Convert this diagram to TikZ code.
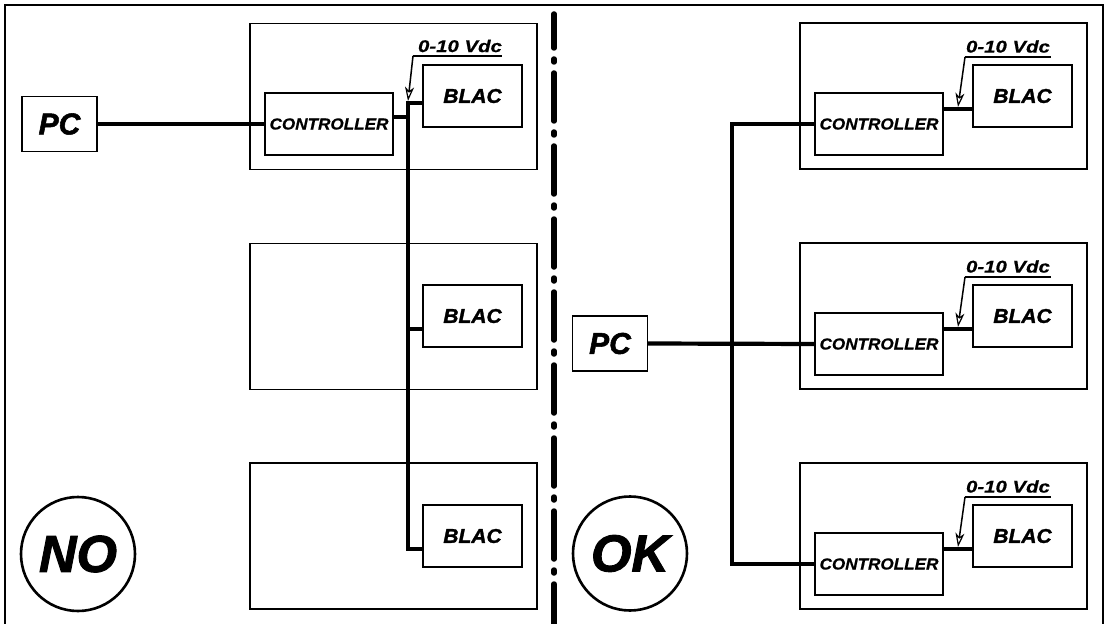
\documentclass[tikz,border=0pt]{standalone}
\usepackage{fontspec}
\setmainfont{Liberation Sans}
\newfontfamily\ctlfont[FakeStretch=1.07,FakeBold=0.6]{Liberation Sans}
\newfontfamily\vfont[FakeStretch=1.2,FakeBold=0.6]{Liberation Sans}
\newfontfamily\bfont[FakeStretch=1.05,FakeBold=1.6]{Liberation Sans}
\newfontfamily\heavyfont[FakeBold=1.8]{Liberation Sans}
\usetikzlibrary{arrows.meta}
\tikzset{
  box/.style={draw, line width=1.4bp, inner sep=0pt},
  pcbox/.style={box, minimum width=75bp, minimum height=55bp, font=\heavyfont\bfseries\itshape\fontsize{30bp}{34bp}\selectfont},
  ctlbox/.style={box, minimum width=128bp, minimum height=62bp, font=\ctlfont\bfseries\itshape\fontsize{16bp}{18bp}\selectfont},
  blacbox/.style={box, minimum width=99bp, minimum height=62bp, font=\bfont\bfseries\itshape\fontsize{20bp}{22bp}\selectfont},
  unit/.style={box, minimum width=287bp, minimum height=146bp},
  vlabel/.style={inner sep=0pt, font=\vfont\bfseries\itshape\fontsize{17bp}{19bp}\selectfont},
  verdict/.style={draw, circle, line width=2.6bp, minimum size=114bp, inner sep=0pt, font=\heavyfont\bfseries\itshape\fontsize{52bp}{56bp}\selectfont},
  bus/.style={line width=4.2bp},
  tap/.style={line width=3.2bp},
  leader/.style={line width=1.5bp, -{Stealth[open, length=14bp, width=9bp, inset=4bp, line width=1.2bp]}},
  uline/.style={line width=1.5bp},
}
\begin{document}
\begin{tikzpicture}[x=1bp, y=-1bp]
\useasboundingbox (0,0) rectangle (1109,624);
% outer frame
\draw[line width=2bp] (5,626) -- (5,5) -- (1103,5) -- (1103,626);
% divider
\draw[line width=5.5bp, line cap=round, dash pattern=on 48bp off 11bp on 3bp off 11bp, dash phase=14bp] (554,14) -- (554,626);

% ===== left side (NO) =====
\node[unit] (uL1) at (393.5,96.5) {};
\node[unit] (uL2) at (393.5,316.5) {};
\node[unit] (uL3) at (393.5,536) {};
\node[pcbox] (pcL) at (59.5,124) {PC};
\node[ctlbox] (ctlL) at (329,124) {CONTROLLER};
\node[blacbox] (bL1) at (472.5,96) {BLAC};
\node[blacbox] (bL2) at (472.5,316) {BLAC};
\node[blacbox] (bL3) at (472.5,536) {BLAC};
\node[verdict] (no) at (78,554) {NO};

\coordinate (tL1) at (408,103);
\coordinate (tL2) at (408,329);
\coordinate (tL3) at (408,549);
\coordinate (jL) at (408,117);
\draw[bus] (pcL.east) -- (ctlL.west);
\draw[bus] (jL -| ctlL.east) -- (jL);
\draw[bus] (tL1 -| bL1.west) -- (tL1) -- (tL3) -- (tL3 -| bL3.west);
\draw[tap] (tL2) -- (tL2 -| bL2.west);
% label
\node[vlabel] (vL) at (460,46) {0-10 Vdc};
\coordinate (ulLa) at (413,56);
\coordinate (ulLb) at (502,56);
\draw[uline] (ulLa) -- (ulLb);
\draw[leader] (ulLa) -- (408,101);

% ===== right side (OK) =====
\node[pcbox] (pcR) at (610,343.5) {PC};
\node[verdict] (ok) at (630,553.5) {OK};
\foreach \i/\T in {1/23,2/243,3/463}{
  \node[unit] (uR\i) at (943.5,\T+73) {};
  \node[ctlbox] (ctlR\i) at (879,\T+101) {CONTROLLER};
  \node[blacbox] (bR\i) at (1022.5,\T+73) {BLAC};
  \coordinate (cR\i) at (958,\T+86);
  \draw[tap] (cR\i -| ctlR\i.east) -- (cR\i -| bR\i.west);
  \node[vlabel] (vR\i) at (1008,\T+23.5) {0-10 Vdc};
  \coordinate (ulRa\i) at (965,\T+34);
  \coordinate (ulRb\i) at (1051,\T+34);
  \draw[uline] (ulRa\i) -- (ulRb\i);
  \draw[leader] (ulRa\i) -- ([yshift=2bp]cR\i);
}
\coordinate (jR1) at (732,124);
\coordinate (jR3) at (732,564);
\draw[bus] (ctlR1.west) -- (jR1) -- (jR3) -- (ctlR3.west);
\draw[bus] (pcR.east) -- (ctlR2.west);
\end{tikzpicture}
\end{document}
